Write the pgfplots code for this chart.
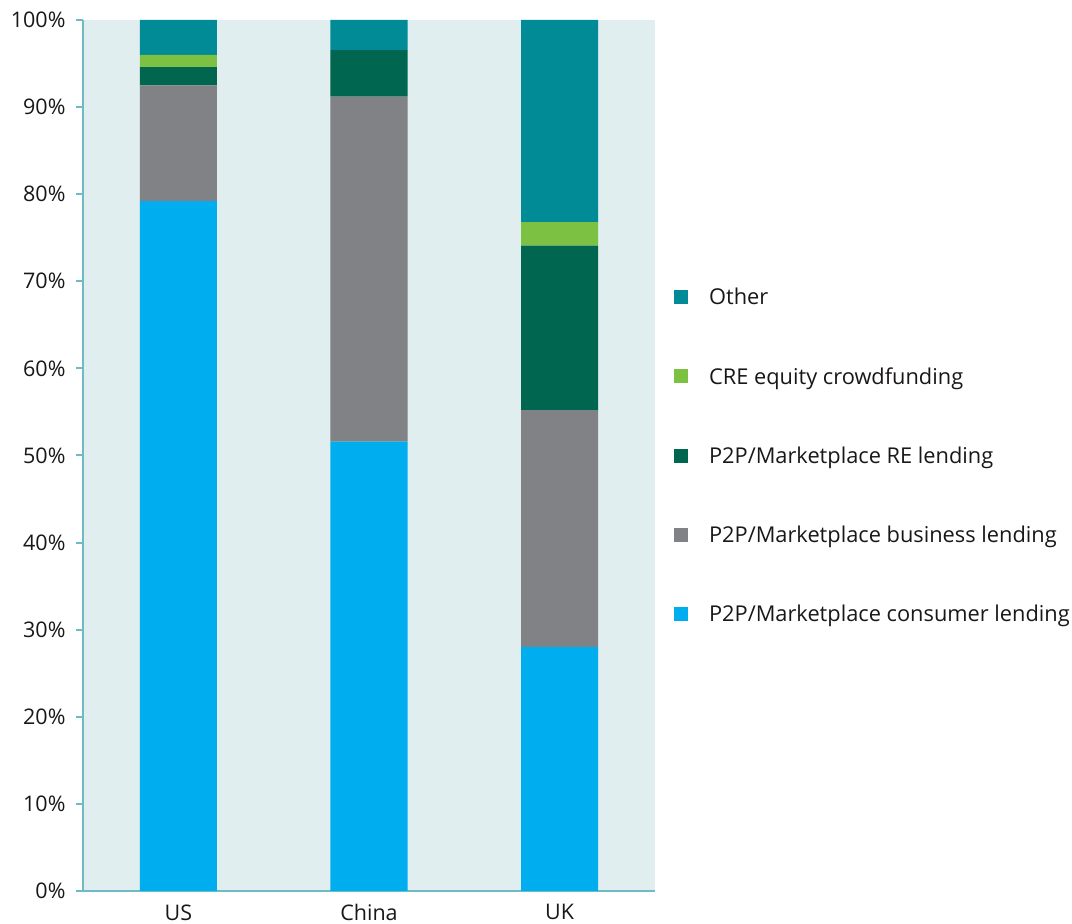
\documentclass[border=0pt]{standalone}
\usepackage{pgfplots}
\pgfplotsset{compat=1.18}
\usepackage{fontspec}
\setmainfont{Open Sans}

\definecolor{consumer}{HTML}{00AEEF}
\definecolor{business}{HTML}{808285}
\definecolor{relend}{HTML}{00664F}
\definecolor{crecrowd}{HTML}{7DC142}
\definecolor{other}{HTML}{008B96}
\definecolor{panel}{HTML}{E0EEEF}
\definecolor{axisline}{HTML}{6FBAC4}
\definecolor{ink}{HTML}{1A1718}

\begin{document}
\begin{tikzpicture}[font=\fontsize{21.5}{25}\selectfont, every node/.style={text=ink}]
\useasboundingbox (-83pt,-33pt) rectangle (989pt,891pt);
\begin{axis}[
  anchor=south west, at={(0pt,0pt)},
  scale only axis,
  width=572pt, height=871pt,
  ybar stacked,
  bar width=0.404,
  xmin=-0.5, xmax=2.5,
  ymin=0, ymax=100,
  xtick={0,1,2},
  xticklabels={US,China,UK},
  minor xtick={-0.5,0.5,1.5,2.5},
  xtick style={draw=none},
  minor tick length=10pt,
  ytick={0,10,...,100},
  yticklabel={\pgfmathprintnumber{\tick}\%},
  major tick length=7pt,
  tick align=outside,
  tick style={axisline, line width=2pt},
  axis lines*=left,
  axis line style={axisline, line width=2.5pt, -},
  axis background/.style={fill=panel},
  /pgf/number format/assume math mode=true,
  yticklabel style={xshift=-7pt},
  xticklabel style={yshift=-3pt},
  legend style={draw=none, fill=none, at={(1.033,0.5)}, anchor=west,
    row sep=61pt, column sep=21pt,
    font=\fontsize{21.8}{26}\selectfont, inner sep=0pt,
    nodes={inner sep=0pt, text=ink},
    legend cell align=left},
  reverse legend,
  legend image code/.code={\fill[#1] (0pt,-7pt) rectangle (14pt,7pt);},
  every axis plot/.append style={draw=none},
]
\addplot[fill=consumer] coordinates {(0,79.2) (1,51.6) (2,28.0)};
\addplot[fill=business] coordinates {(0,13.3) (1,39.6) (2,27.2)};
\addplot[fill=relend]   coordinates {(0,2.1) (1,5.35) (2,18.9)};
\addplot[fill=crecrowd] coordinates {(0,1.4) (1,0) (2,2.7)};
\addplot[fill=other]    coordinates {(0,4.0) (1,3.45) (2,23.2)};
\legend{P2P/Marketplace consumer lending,P2P/Marketplace business lending,P2P/Marketplace RE lending,CRE equity crowdfunding,Other}
\end{axis}
\end{tikzpicture}
\end{document}
